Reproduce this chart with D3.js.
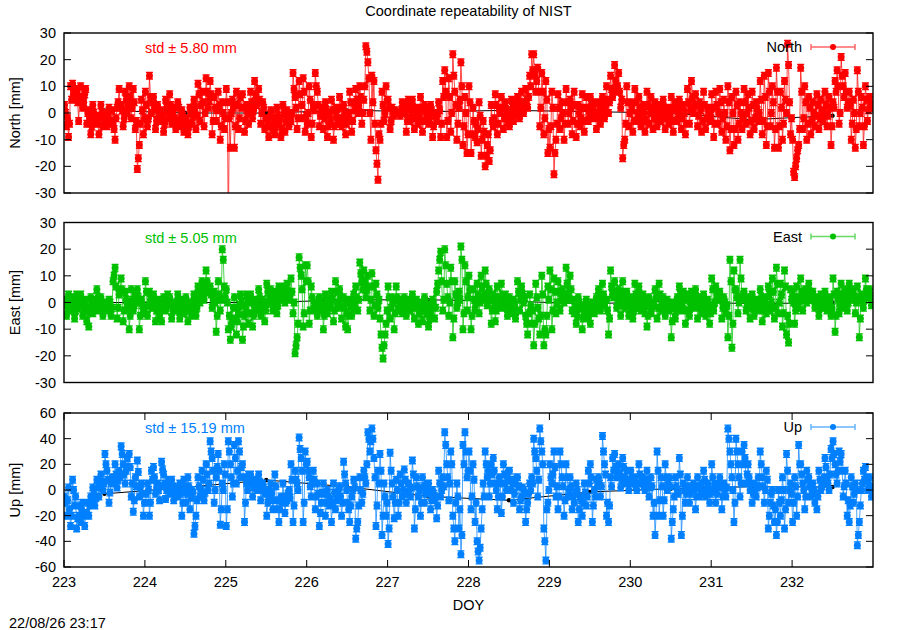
<!DOCTYPE html>
<html>
<head>
<meta charset="utf-8">
<script src="https://cdn.jsdelivr.net/npm/d3@7"></script>
<style>
body { margin: 0; background: #fff; }
text { font-family: "Liberation Sans", Arial, sans-serif; font-size: 14.5px; fill: #000; }
</style>
</head>
<body>
<svg width="900" height="630"></svg>
<script>
// samples start at DOY 223 and are 0.0125 day apart (one row = one day)
var doyStart = 223, doyStep = 0.0125;

var north = [
  3,0,-5,-2,-9,-4,10,5, 11,7,5,9,8,4,-3,6, 10,6,2,4,7,9,-4,0, 1,-2,-8,-5,3,0,-4,-1, -2,-4,-8,-1,3,0,-5,-3, 0,-2,-5,-1,2,-4,-3,1, -4,-6,-10,-2,2,4,9,3, 3,1,-5,-2,8,5,0,3, 10,6,-2,2,9,4,-6,-3, -21,-17,-12,-4,5,1,-8,-2,
  8,3,-5,-2,14,6,0,4, 6,2,-6,-3,3,0,-2,1, -3,-1,-7,-4,5,2,1,-2, 7,3,-4,0,2,-2,-6,-3, 4,2,-5,-2,1,-1,-7,-4, -2,-4,-8,-5,2,0,-4,-1, 5,2,-6,-1,11,7,-3,3, 8,4,-5,0,13,8,2,5, 12,7,-8,-3,6,2,-3,1, 8,3,-10,-5,4,0,-6,-2,
  9,4,-45,-2,-13,0,5,2, -13,-5,8,3,-6,-2,6,2, 7,2,-7,-3,3,0,-4,1, 8,4,-2,1,12,7,3,5, 9,5,-4,0,4,2,-6,-2, -2,-4,-9,-5,1,-1,-6,-3, -8,-5,2,-1,-4,-2,-9,-6, 3,0,-7,-3,1,-2,-5,-1, -3,0,15,9,6,2,-6,-2, 12,7,-2,3,13,8,-7,-1,
  -4,0,10,5,-9,-4,3,1, 15,10,8,3,-5,-1,2,0, -6,-2,4,1,-9,-5,0,-3, 5,1,-10,-5,2,-1,-4,-2, 6,2,-5,-2,3,0,-8,-4, -3,0,8,4,-7,-3,4,1, 9,5,0,3,10,6,-4,0, 5,10,25,23,19,13,0,-10, 14,4,12,-4,-14,-19,-25,-8, -10,-4,8,3,-3,0,10,5,
  5,2,-6,-3,2,0,-1,1, 0,0,0,0,-1,1,4,2, 3,0,-7,-3,5,2,-3,-1, 5,2,-6,-2,2,0,-4,-1, 6,2,-7,-3,3,1,-2,0, -4,-2,3,1,-9,-5,0,-1, -3,0,4,1,-9,-4,12,6, 16,8,-9,-3,13,6,-7,0, 22,14,8,3,-10,-4,2,5, 19,10,-12,-5,6,0,-15,-8,
  10,4,-15,-8,2,-3,-9,-4, -11,-6,4,-1,-16,-10,-3,-7, -20,-16,-12,-8,-18,-14,3,-3, -5,-2,7,3,-8,-4,2,0, 6,2,-6,-2,4,1,-3,0, -5,-2,5,2,-3,0,4,1, 6,3,-2,1,8,4,0,2, 9,5,2,6,14,10,22,16, 22,14,8,12,17,8,-5,2, 15,8,-8,-2,12,5,-15,-6,
  -13,-5,8,2,-23,-15,-10,-4, 7,2,-6,-2,4,0,-10,-4, 9,4,-4,0,5,2,-8,-3, 8,3,-9,-4,3,0,-5,-2, 7,2,-7,-3,6,2,-3,0, 6,3,-2,1,4,0,-6,-2, 4,1,-4,-1,6,3,-2,1, 10,5,0,4,14,9,6,8, 18,12,8,10,15,8,2,5, -17,-12,-10,-4,10,4,-5,0,
  4,1,-7,-3,9,4,-3,0, 6,2,-5,-2,3,0,-7,-3, 8,3,-4,0,6,2,-6,-2, 4,1,-5,-2,3,0,-3,-1, 5,2,-6,-2,2,0,-4,-1, 6,2,-7,-3,4,1,-3,0, 5,2,-6,-2,3,0,-8,-4, 9,4,-4,1,12,6,0,3, 7,3,-5,-1,4,1,-7,-3, 8,3,-6,-2,2,0,-3,-1,
  7,2,-9,-4,8,3,-4,0, 9,4,-7,-2,5,0,-10,-5, 10,4,-14,-6,6,0,-12,-6, 8,3,-10,-4,4,0,-6,-2, 9,4,-4,0,7,2,-8,-3, 8,3,-6,-2,4,1,-3,0, 12,5,-8,-3,14,6,-12,-5, 15,8,-5,0,10,4,-13,-6, 17,8,-13,-5,8,2,-10,-4, 12,5,0,26,18,4,-8,-2,
  -10,-22,-24,-20,-17,-14,-12,-6, 17,8,-6,-2,10,4,-10,-4, 6,2,-8,-3,4,0,-5,-1, 7,3,-6,-2,5,1,-3,0, 8,3,-5,-1,6,2,-12,-5, 4,2,12,8,16,10,-4,0, 21,14,10,6,15,8,2,4, 8,3,-10,-4,5,0,-13,-6, 16,8,-5,0,6,2,-12,-5, 10,5,-3,1,6,3,2,2
];

var east = [
  1,0,-5,-2,3,1,-3,-1, 2,0,-6,-3,3,1,-2,-1, 3,0,-5,-2,1,-1,-7,-3, -9,-4,2,0,-4,-2,1,-1, 5,2,-3,0,2,0,-5,-2, 0,-1,-3,-2,1,0,-5,-2, 8,10,13,6,-6,-2,3,5, 9,5,-7,-3,4,1,-2,0, -10,-5,5,1,-3,-1,3,0, 5,2,-10,-5,1,-1,-4,-2,
  8,4,-5,-1,4,1,-2,0, 3,0,-7,-3,1,-1,-5,-2, -7,-3,2,0,-3,-1,3,1, 2,0,-6,-3,0,-1,-3,-1, 3,0,-6,-3,1,-1,-4,-2, 2,-1,-7,-3,0,-2,-5,-2, 3,1,-5,-2,6,3,0,2, 8,5,1,4,12,8,4,6, 6,3,-2,1,4,0,-11,-5, 8,3,-3,1,20,16,6,2,
  5,0,-10,-5,-14,-9,-6,-2, 2,-2,-12,-7,-4,-1,3,0, -14,-9,-5,-2,3,0,-8,-4, 3,0,-9,-5,-3,-1,1,-2, 5,2,-5,-2,1,-1,-7,-3, 7,4,0,2,5,2,-3,0, 4,1,-4,-1,6,3,1,2, 6,3,0,2,7,4,2,1, 9,4,-4,0,-19,-16,-13,-8, 17,13,10,5,-9,-4,14,8,
  14,8,-8,-3,6,2,-3,0, 0,-2,-5,-2,2,0,-3,-1, -10,-5,3,0,-4,-2,1,-1, 4,1,-7,-3,8,4,-2,0, 5,2,-6,-2,2,-1,-9,-4, -10,-5,1,-1,-5,-2,3,0, 6,2,-3,1,15,11,8,5, 12,8,2,5,10,6,-3,1, 11,6,-5,-1,7,3,-2,1, -6,-12,-17,-21,-16,-12,-8,-3,
  6,2,-6,-2,2,0,-10,-4, 6,2,-3,0,1,1,-4,-1, 2,1,-5,-2,1,1,-3,-1, 3,1,-6,-2,1,0,-8,-4, 0,-2,-7,-3,2,0,-4,-1, -9,-6,-4,-1,1,-1,-6,-2, 4,7,12,16,19,8,-3,1, 20,14,7,2,-5,0,13,8, -13,-6,8,3,-2,0,4,1, 21,16,-10,-4,14,8,-3,2,
  10,5,-10,-5,5,1,-3,0, 7,3,-4,0,10,6,1,3, 12,7,-1,2,5,1,-8,-3, 3,0,-7,-3,6,2,-2,1, 7,3,-2,0,3,1,-5,-2, 2,0,-4,-2,1,-1,-6,-3, 8,4,-3,1,6,3,0,2, -5,-8,-12,-4,3,-1,-8,-3, -16,-8,7,2,-2,-6,-12,-5, 10,3,-16,-10,-12,-5,6,1,
  12,5,-10,-3,9,4,-4,0, 8,4,-3,1,5,2,0,3, 13,7,1,4,10,5,-3,1, -4,-2,-8,-5,2,0,-2,-1, -10,-6,-3,-1,1,-1,-6,-3, -8,-4,0,-2,-4,-1,2,0, 5,2,-3,0,7,3,-1,1, 1,-3,-12,-6,12,6,3,2, 8,4,-2,1,5,2,-5,-1, 8,4,-2,1,4,1,-5,-2,
  2,0,-6,-3,7,3,-2,1, 6,3,-3,0,3,1,-4,-1, -9,-5,2,0,-4,-2,0,-1, 5,2,-6,-2,7,3,-3,0, 2,0,-5,-2,1,-1,-3,-1, -13,-7,0,-2,-6,-3,2,0, 6,3,-3,0,4,1,-8,-3, 3,1,-5,-2,4,1,-2,0, 5,2,-6,-2,2,0,-4,-1, 3,0,-5,-2,1,-1,-8,-4,
  9,5,-3,0,6,3,1,2, 4,1,-6,-2,2,0,-4,-1, -13,-5,16,8,-17,-8,12,5, 5,2,-4,0,16,9,2,3, 4,1,-3,0,2,0,-6,-2, 3,1,-5,-2,1,0,-3,-1, 5,2,-7,-3,2,0,-4,-1, 6,3,-3,0,9,4,-6,-2, 13,7,-4,0,7,3,-9,-4, 12,6,-12,-5,-15,-8,5,1,
  3,0,-8,-3,6,2,-2,1, 9,4,-3,1,5,2,0,2, 7,4,1,2,4,2,-2,0, 2,0,-5,-2,3,1,-2,0, 4,1,-3,0,2,0,-5,-2, 9,3,-11,-5,4,1,-4,-1, 7,3,-2,1,5,2,-3,0, 7,4,1,2,5,2,-4,0, 6,2,-13,-6,3,0,-2,1, 9,5,2,3,5,2,-1,1
];

var up = [
  -5,-10,-20,-8,2,-15,-28,-20, 8,0,-12,-5,-30,-22,-20,-12, -25,-15,-10,-20,-28,-20,-18,-10, -20,-12,-5,-8,2,-3,-12,-6, 8,2,-5,3,12,6,0,5, 28,20,15,8,-10,-2,5,10, 10,5,20,12,2,8,15,10, 34,28,20,12,5,15,25,18, 28,18,-5,5,-17,-8,10,3, 23,14,-5,2,5,-3,-20,-10,
  -10,-3,5,0,-20,-10,15,8, 18,10,-3,2,5,0,-8,3, 22,16,12,5,-7,0,3,8, -3,2,8,3,-8,-2,2,0, -5,0,5,-3,-20,-10,8,2, -10,-3,10,3,-15,-6,0,-2, -34,-28,-20,-8,10,3,-5,0, 15,8,-8,-2,20,12,0,5, 38,30,25,15,-10,0,10,18, 28,15,-27,-15,5,0,20,12,
  -28,-15,38,30,20,10,-5,5, 35,25,5,15,38,30,10,18, 20,10,-25,-10,5,0,12,8, 12,5,-5,2,8,3,0,5, 12,6,-8,0,5,2,-3,0, -20,-10,-5,0,5,-3,-15,-8, 12,3,-15,-8,-25,-15,-5,-10, 5,-5,-18,-10,-8,-3,0,-6, 20,8,-25,-12,15,8,5,0, 41,32,25,15,-25,-10,30,20,
  22,15,10,3,-5,5,15,8, -15,-5,5,-3,-28,-18,-10,-2, 5,-3,-20,-10,0,-5,-12,-8, -25,-12,5,-2,-15,-8,-5,0, 3,-5,-20,-10,22,12,5,0, -10,-15,-25,-12,-5,0,8,2, -38,-30,-25,-12,10,0,-10,-3, 15,10,5,20,45,40,30,38, 48,40,25,10,-28,-12,15,5, 28,15,-35,-20,5,-5,-20,-10,
  -42,-30,29,15,5,-5,-22,-10, 8,0,-20,-10,12,5,-5,0, 16,8,-10,-3,5,0,-5,2, 23,12,-30,-15,10,3,-5,0, -20,-10,10,3,-10,-3,5,0, 5,-2,-15,-8,0,-3,-8,-5, -22,-12,15,5,-5,0,10,3, 45,35,20,10,-8,5,30,20, -20,-30,-40,-10,5,-5,-30,-15, -50,-35,35,20,45,30,10,15,
  30,15,-15,-5,20,8,-25,-10, -40,-48,-55,-45,-30,-15,5,-5, 30,20,10,15,-5,5,20,12, 25,15,5,0,-15,-5,10,5, -18,-5,20,12,5,0,10,15, 15,8,0,5,-10,-3,5,10, 10,3,-15,-8,-5,2,0,-3, -25,-15,-10,-3,5,0,10,5, 40,30,25,15,-5,8,48,38, 30,20,-30,-40,-55,-15,-10,0,
  20,10,5,12,30,18,-5,3, -15,-5,30,20,10,3,-20,-8, 20,10,-5,0,10,3,-15,-5, -10,-3,5,0,-25,-15,-5,-8, -20,-10,5,-2,-12,-5,15,5, 20,10,-25,-12,0,-5,8,3, 10,5,-5,3,42,30,20,12, -20,-10,-25,-12,10,3,25,15, 28,18,10,15,20,12,2,8, 25,18,10,5,15,8,0,5,
  15,10,5,8,10,3,0,5, 20,12,5,8,10,3,0,5, 15,8,-5,2,10,3,-20,-10, -35,-20,30,15,-20,-8,10,3, -20,-8,20,10,0,5,10,3, -38,-25,-15,-5,10,3,0,-3, 25,12,-35,-20,5,0,-10,-3, 10,3,-10,-3,0,2,5,0, -15,-5,10,3,-5,0,5,-2, 15,8,-5,0,5,2,-10,-3,
  20,10,0,5,-10,-3,5,2, 10,3,-15,-5,5,0,-5,2, 48,40,30,20,10,0,-25,-10, 40,30,20,10,-5,5,30,20, 35,25,5,12,20,10,0,5, -10,-3,5,0,-5,2,10,3, 30,20,10,3,-10,0,15,8, -30,-20,-10,-3,0,-12,-25,-15, -35,-25,0,-10,-20,-8,10,0, -30,-15,28,15,-10,0,5,-3,
  -25,-10,10,3,-20,-5,35,20, 20,12,5,0,-15,-5,15,8, 10,3,-5,0,5,0,-10,-3, -15,-5,15,8,0,3,5,10, 25,18,10,5,0,12,32,25, 38,28,20,12,5,15,30,22, 28,15,-5,3,15,5,-20,-8, -25,-12,10,3,-10,-3,5,0, -43,-35,-25,-12,0,5,15,8, 18,10,0,5,10,3,-5,0
];

// daily means (black line, mostly hidden under the samples)
var meanDoy = [223.5, 224.5, 225.5, 226.5, 227.5, 228.5, 229.5, 230.5, 231.5, 232.5];
var meanNorth = [1, 0, 0, 1, 0.5, 1, 0.5, 0, -2.5, -1];
var meanEast = [0, 0, 0, 1, 1, 0.5, -0.5, 0.5, -0.5, 0];
var meanUp = [-3, 2, 7.8, 2.5, -5, -8, -1.5, 1, 2.6, 2.3];

var xTicks = [223, 224, 225, 226, 227, 228, 229, 230, 231, 232];
var nePanelTicks = [-30, -20, -10, 0, 10, 20, 30];
var upPanelTicks = [-60, -40, -20, 0, 20, 40, 60];

var panels = [
  {name: "North", label: "North [mm]", std: "std \u00b1 5.80 mm", values: north, mean: meanNorth,
   color: "#ff0000", domain: [-30, 30], ticks: nePanelTicks, top: 33, bottom: 193},
  {name: "East", label: "East [mm]", std: "std \u00b1 5.05 mm", values: east, mean: meanEast,
   color: "#00c000", domain: [-30, 30], ticks: nePanelTicks, top: 222.5, bottom: 382.5},
  {name: "Up", label: "Up [mm]", std: "std \u00b1 15.19 mm", values: up, mean: meanUp,
   color: "#0080ff", domain: [-60, 60], ticks: upPanelTicks, top: 413, bottom: 567}
];

var svg = d3.select("svg");
var left = 64, right = 873, tickLen = 7;

var x = d3.scaleLinear().domain([223, 233]).range([left, right]);

svg.append("text")
    .attr("x", (left + right) / 2)
    .attr("y", 16)
    .attr("text-anchor", "middle")
    .text("Coordinate repeatability of NIST");

panels.forEach(function(p, k) {
    var y = d3.scaleLinear().domain(p.domain).range([p.bottom, p.top]);
    var g = svg.append("g");

    g.append("clipPath").attr("id", "clip" + k)
      .append("rect")
        .attr("x", left).attr("y", p.top)
        .attr("width", right - left).attr("height", p.bottom - p.top);

    var plot = g.append("g").attr("clip-path", "url(#clip" + k + ")");

    // daily mean
    var meanLine = d3.line()
        .x(function(d, i) { return x(meanDoy[i]); })
        .y(function(d) { return y(d); });
    plot.append("path")
        .attr("d", meanLine(p.mean))
        .attr("fill", "none")
        .attr("stroke", "#000")
        .attr("stroke-width", 1);
    plot.selectAll(".mean").data(p.mean).enter().append("circle")
        .attr("cx", function(d, i) { return x(meanDoy[i]); })
        .attr("cy", function(d) { return y(d); })
        .attr("r", 2.2)
        .attr("fill", "#000");

    // samples
    var sx = function(i) { return x(doyStart + (i + 0.5) * doyStep); };
    var line = d3.line()
        .x(function(d, i) { return sx(i); })
        .y(function(d) { return y(d); });
    plot.append("path")
        .attr("d", line(p.values))
        .attr("fill", "none")
        .attr("stroke", p.color)
        .attr("stroke-opacity", 0.7)
        .attr("stroke-width", 1);

    // small error bar caps above and below every sample
    var caps = "";
    p.values.forEach(function(d, i) {
        var cx = sx(i), cy = y(d);
        caps += "M" + (cx - 3.5) + "," + (cy - 3.3) + "h7M" + (cx - 3.5) + "," + (cy + 3.3) + "h7";
    });
    plot.append("path")
        .attr("d", caps)
        .attr("stroke", p.color)
        .attr("stroke-width", 1.4);
    plot.selectAll(".pt").data(p.values).enter().append("circle")
        .attr("cx", function(d, i) { return sx(i); })
        .attr("cy", function(d) { return y(d); })
        .attr("r", 3.5)
        .attr("fill", p.color);

    // frame and ticks
    g.append("rect")
        .attr("x", left).attr("y", p.top)
        .attr("width", right - left).attr("height", p.bottom - p.top)
        .attr("fill", "none")
        .attr("stroke", "#000")
        .attr("stroke-width", 1.4);

    p.ticks.forEach(function(t) {
        g.append("line")
            .attr("x1", left).attr("x2", left + tickLen)
            .attr("y1", y(t)).attr("y2", y(t))
            .attr("stroke", "#000");
        g.append("line")
            .attr("x1", right - tickLen).attr("x2", right)
            .attr("y1", y(t)).attr("y2", y(t))
            .attr("stroke", "#000");
        g.append("text")
            .attr("x", 56)
            .attr("y", y(t))
            .attr("dy", "0.35em")
            .attr("text-anchor", "end")
            .text(t);
    });

    g.append("text")
        .attr("transform", "translate(20," + ((p.top + p.bottom) / 2) + ") rotate(-90)")
        .attr("text-anchor", "middle")
        .text(p.label);

    g.append("text")
        .attr("x", 145)
        .attr("y", p.top + 20)
        .style("fill", p.color)
        .text(p.std);

    // legend
    var ly = p.top + 14;
    g.append("text")
        .attr("x", 802)
        .attr("y", ly)
        .attr("dy", "0.35em")
        .attr("text-anchor", "end")
        .text(p.name);
    g.append("path")
        .attr("d", "M811," + ly + "H855M811," + (ly - 3) + "V" + (ly + 3) + "M855," + (ly - 3) + "V" + (ly + 3))
        .attr("stroke", p.color)
        .attr("stroke-opacity", 0.6)
        .attr("stroke-width", 1.5)
        .attr("fill", "none");
    g.append("circle")
        .attr("cx", 833).attr("cy", ly).attr("r", 3)
        .attr("fill", p.color);

    if (k == 2) {
        xTicks.forEach(function(t) {
            g.append("line")
                .attr("x1", x(t)).attr("x2", x(t))
                .attr("y1", p.bottom).attr("y2", p.bottom - tickLen)
                .attr("stroke", "#000");
            g.append("line")
                .attr("x1", x(t)).attr("x2", x(t))
                .attr("y1", p.top).attr("y2", p.top + tickLen)
                .attr("stroke", "#000");
            g.append("text")
                .attr("x", x(t))
                .attr("y", p.bottom + 15)
                .attr("dy", "0.35em")
                .attr("text-anchor", "middle")
                .text(t);
        });
    }
});

svg.append("text")
    .attr("x", (left + right) / 2)
    .attr("y", 605)
    .attr("dy", "0.35em")
    .attr("text-anchor", "middle")
    .text("DOY");

svg.append("text")
    .attr("x", 9)
    .attr("y", 623)
    .attr("dy", "0.35em")
    .text("22/08/26 23:17");
</script>
</body>
</html>
